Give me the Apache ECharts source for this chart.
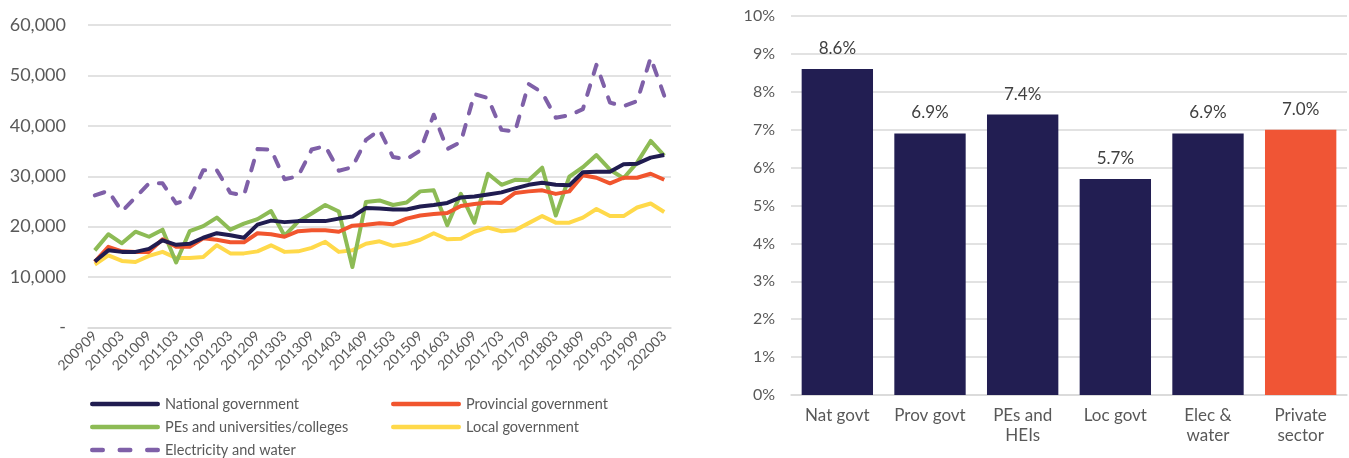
<!DOCTYPE html>
<html>
<head>
<meta charset="utf-8">
<script src="https://cdn.jsdelivr.net/npm/echarts@6/dist/echarts.min.js"></script>
<style>
html,body{margin:0;padding:0;background:#fff;}
#c{width:1349px;height:458px;}
</style>
</head>
<body>
<div id="c"></div>
<script>
// ---------- Data ----------
const quarters = ['200909','200912','201003','201006','201009','201012','201103','201106','201109','201112',
  '201203','201206','201209','201212','201303','201306','201309','201312','201403','201406',
  '201409','201412','201503','201506','201509','201512','201603','201606','201609','201612',
  '201703','201706','201709','201712','201803','201806','201809','201812','201903','201906',
  '201909','201912','202003'];

const nationalGov = [13100,15300,15000,15000,15600,17300,16400,16600,17800,18700,
  18300,17800,20400,21200,20900,21100,21100,21100,21600,22000,
  23700,23600,23400,23400,24000,24300,24700,25800,26000,26400,
  26800,27600,28300,28700,28300,28200,30800,30900,30900,32400,
  32500,33700,34200];

const provincialGov = [13000,16000,15100,15000,15000,17500,16000,16000,17700,17400,
  16900,16900,18700,18500,18000,19100,19300,19300,19000,20200,
  20400,20700,20500,21600,22200,22500,22700,24100,24500,24800,
  24700,26700,27000,27200,26500,27000,30200,29700,28600,29700,
  29700,30500,29300];

const pesUniversities = [15300,18500,16700,19000,18000,19400,12900,19100,20100,21800,
  19400,20600,21500,23100,18200,21000,22600,24300,23000,12000,
  24900,25200,24300,24800,27000,27200,20300,26500,20800,30500,
  28300,29300,29200,31700,22200,29900,31800,34200,31300,29600,
  32700,37000,34100];

const localGov = [12500,14300,13200,13000,14200,15000,13800,13800,14000,16300,
  14700,14700,15100,16300,15000,15100,15800,17000,15000,15300,
  16600,17100,16200,16600,17400,18700,17500,17600,19000,19800,
  19100,19300,20700,22100,20800,20800,21800,23500,22100,22100,
  23800,24600,22900];

const electricityWater = [26200,27100,23000,25800,28600,28600,24600,25500,31200,31200,
  26700,26200,35400,35300,29400,30000,35300,36000,31100,31800,
  37200,39200,33800,33400,35100,42200,35400,36800,46300,45500,
  39200,38900,48300,46600,41600,42100,43300,52100,44600,43900,
  44900,53500,46000];

const seriesNames = ['National government','Provincial government','PEs and universities/colleges','Local government','Electricity and water'];

const leftTicks = [0,10000,20000,30000,40000,50000,60000];

const sectors = ['Nat govt','Prov govt','PEs and\nHEIs','Loc govt','Elec &\nwater','Private\nsector'];
const growthRates = [8.6,6.9,7.4,5.7,6.9,7.0];

// ---------- Styles ----------
const NAVY = '#201c50', RED = '#f1552e', GREEN = '#8dbb55', YELLOW = '#ffd94a', PURPLE = '#7f60a8';
const BAR_NAVY = '#221e52', BAR_ORANGE = '#f05535';
const TXT = '#595959', GRID = '#d9d9d9';
const FONT = 'Lato, "Open Sans", sans-serif';

const lineColors = [NAVY, RED, GREEN, YELLOW, PURPLE];
const lineData = [nationalGov, provincialGov, pesUniversities, localGov, electricityWater];

// legend icons (drawn as paths, 70 x 4.5)
const SOLID_ICON = 'path://M2.25,0 L67.75,0 A2.25,2.25 0 0 1 67.75,4.5 L2.25,4.5 A2.25,2.25 0 0 1 2.25,0 Z';
const DASH_ICON = 'path://M2.25,0 L12.75,0 A2.25,2.25 0 0 1 12.75,4.5 L2.25,4.5 A2.25,2.25 0 0 1 2.25,0 Z ' +
  'M29.75,0 L40.25,0 A2.25,2.25 0 0 1 40.25,4.5 L29.75,4.5 A2.25,2.25 0 0 1 29.75,0 Z ' +
  'M57.25,0 L67.75,0 A2.25,2.25 0 0 1 67.75,4.5 L57.25,4.5 A2.25,2.25 0 0 1 57.25,0 Z';

const legendSlots = [
  {left: 90, top: 396},   // National
  {left: 391, top: 396},  // Provincial
  {left: 90, top: 419},   // PEs
  {left: 391, top: 419},  // Local
  {left: 90, top: 442}    // Electricity
];

const chart = echarts.init(document.getElementById('c'), null, {renderer:'canvas'});

const lineSeries = seriesNames.map((name, i) => ({
  name: name,
  type: 'line',
  xAxisIndex: 0, yAxisIndex: 0,
  data: lineData[i],
  symbol: 'none',
  smooth: false,
  z: i === 4 ? 1 : (5 - i),
  lineStyle: {
    color: lineColors[i],
    width: 4,
    type: i === 4 ? [10, 12] : 'solid',
    cap: i === 4 ? 'round' : 'butt',
    join: 'round'
  },
  itemStyle: {color: lineColors[i]}
}));

const legends = seriesNames.map((name, i) => ({
  data: [{name: name, icon: i === 4 ? DASH_ICON : SOLID_ICON}],
  left: legendSlots[i].left, top: legendSlots[i].top,
  padding: 0, itemWidth: 70, itemHeight: 16, symbolKeepAspect: true,
  textStyle: {color: TXT, fontSize: 14.5, lineHeight: 16, fontFamily: FONT}
}));

const option = {
  animation: false,
  textStyle: {fontFamily: FONT},
  grid: [
    {left: 88, right: 678, top: 25, bottom: 130.5, containLabel: false},
    {left: 791, width: 556, top: 16, bottom: 63, containLabel: false}
  ],
  legend: legends,
  xAxis: [
    {
      gridIndex: 0, type: 'category', data: quarters, boundaryGap: true,
      axisLine: {show: true, lineStyle: {color: GRID, width: 1.5}},
      axisTick: {show: false},
      axisLabel: {interval: 1, rotate: 45, color: TXT, fontSize: 14, margin: 6, fontFamily: FONT}
    },
    {
      gridIndex: 1, type: 'category', data: sectors,
      axisLine: {show: true, lineStyle: {color: GRID, width: 1.5}},
      axisTick: {show: false},
      axisLabel: {interval: 0, color: TXT, fontSize: 17, margin: 11, lineHeight: 20, fontFamily: FONT}
    }
  ],
  yAxis: [
    {
      gridIndex: 0, type: 'value', min: leftTicks[0], max: leftTicks[leftTicks.length-1], interval: 10000,
      axisLine: {show: false}, axisTick: {show: false},
      splitLine: {lineStyle: {color: GRID, width: 1.5}},
      axisLabel: {
        color: TXT, fontSize: 18, margin: 22, fontFamily: FONT,
        formatter: v => v === 0 ? '-' : v.toLocaleString('en-US')
      }
    },
    {
      gridIndex: 1, type: 'value', min: 0, max: 10, interval: 1,
      axisLine: {show: false}, axisTick: {show: false},
      splitLine: {lineStyle: {color: GRID, width: 1.5}},
      axisLabel: {color: TXT, fontSize: 16, margin: 16, fontFamily: FONT, formatter: '{value}%'}
    }
  ],
  series: lineSeries.concat([{
    name: 'Growth',
    type: 'bar',
    xAxisIndex: 1, yAxisIndex: 1,
    barCategoryGap: '23%',
    data: growthRates.map((v, i) => ({
      value: v,
      itemStyle: {color: i === growthRates.length - 1 ? BAR_ORANGE : BAR_NAVY}
    })),
    label: {
      show: true, position: 'top', distance: 12,
      color: '#404040', fontSize: 17, fontFamily: FONT,
      formatter: p => p.value.toFixed(1) + '%'
    }
  }])
};

chart.setOption(option);
</script>
</body>
</html>
